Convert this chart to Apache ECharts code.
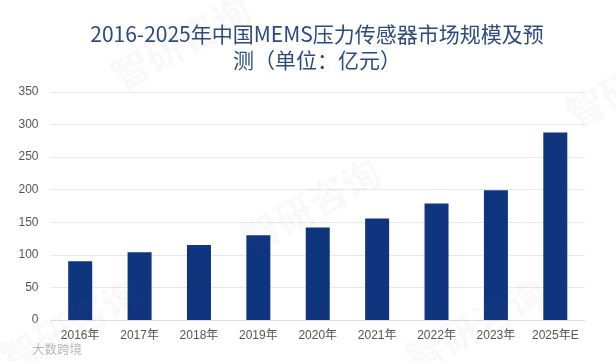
<!DOCTYPE html>
<html><head><meta charset="utf-8">
<style>html,body{margin:0;padding:0;background:#fff}#c{width:616px;height:361px}</style>
<script src="https://cdn.jsdelivr.net/npm/echarts@6/dist/echarts.min.js"></script>
</head><body><div id="c"></div>
<script>
const categories = ['2016年','2017年','2018年','2019年','2020年','2021年','2022年','2023年','2025年E'];
const values = [90,104,115,130,142,156,179,199,288];
const titleLines = ['2016-2025年中国MEMS压力传感器市场规模及预','测（单位：亿元）'];
const watermarks = [[105,62],[235,225],[400,345],[-5,345],[560,100]];
const chart = echarts.init(document.getElementById('c'));
const cjk = '"Noto Sans CJK SC","Noto Sans",sans-serif';
chart.setOption({
  animation:false,
  backgroundColor:'#fff',
  title:{text:titleLines.join('\n'),left:312,top:16,textAlign:'center',
    textStyle:{color:'#2b4a80',fontSize:21,fontWeight:'normal',fontFamily:cjk,lineHeight:26,align:'center'}},
  graphic:watermarks.map(p=>({type:'text',x:p[0],y:p[1],rotation:0.5,silent:true,z:10,
    style:{text:'智研咨询',fontSize:38,fontWeight:'bold',fontFamily:cjk,fill:'rgba(90,110,140,0.04)'}}))
   .concat([{type:'text',x:32,y:343,silent:true,z:10,style:{text:'大数跨境',fontSize:12.5,fontFamily:cjk,fill:'#b8b8b8'}}]),
  grid:{left:50.5,right:31,top:92,bottom:41},
  xAxis:{type:'category',data:categories,
    axisTick:{show:false},
    axisLine:{lineStyle:{color:'#dcdfe4',width:1}},
    axisLabel:{color:'#555',fontSize:12,margin:10,interval:0,hideOverlap:false,fontFamily:'"Liberation Sans",'+cjk}},
  yAxis:{type:'value',min:0,max:350,interval:50,
    axisLine:{show:false},axisTick:{show:false},
    splitLine:{lineStyle:{color:'#e6e8ec',width:1}},
    axisLabel:{color:'#555',fontSize:12,margin:12,fontFamily:'"Liberation Sans",'+cjk}},
  series:[{type:'bar',data:values,barWidth:24,
    itemStyle:{color:'#10357f'}}]
});
</script></body></html>
